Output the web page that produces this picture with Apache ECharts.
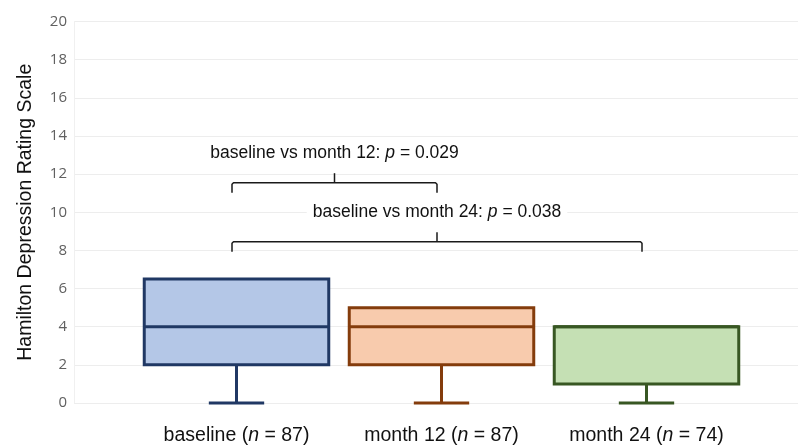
<!DOCTYPE html>
<html>
<head>
<meta charset="utf-8">
<script src="https://cdn.jsdelivr.net/npm/echarts@6/dist/echarts.min.js"></script>
<style>html,body{margin:0;padding:0;background:#fff}#c{width:798px;height:447px}</style>
</head>
<body>
<div id="c"></div>
<script>
// ---- data ----
var categories = ['baseline', 'month 12', 'month 24'];
var nValues = [87, 87, 74];
var mins = [0, 0, 0];
var q1s = [2, 2, 1];
var medians = [4, 4, 4];
var q3s = [6.5, 5, 4];
var maxs = [6.5, 5, 4];
var yTicks = [0, 2, 4, 6, 8, 10, 12, 14, 16, 18, 20];
var bracketFrom = [0, 0];
var bracketTo = [1, 2];
var bracketLevel = [11.55, 8.45];
var bracketLabel = ['baseline vs month 12: {i|p} = 0.029', 'baseline vs month 24: {i|p} = 0.038'];

// ---- styles ----
var fills = ['#b4c7e7', '#f8cbad', '#c5e0b4'];
var strokes = ['#203864', '#843c0c', '#385723'];
var FONT = '"Liberation Sans", Arial, sans-serif';

var boxData = categories.map(function (c, i) {
  return [i, mins[i], q1s[i], medians[i], q3s[i], maxs[i]];
});
var bracketData = bracketFrom.map(function (f, i) {
  return [f, bracketTo[i], bracketLevel[i], i];
});

var chart = echarts.init(document.getElementById('c'));
chart.setOption({
  animation: false,
  grid: [
    {left: 74, right: 0, top: 21.5, bottom: 44},
    {left: 134, right: 49, top: 21.5, bottom: 44}
  ],
  xAxis: [
    {gridIndex: 0, type: 'category', data: categories, show: false},
    {
      gridIndex: 1, type: 'category', data: categories,
      axisLine: {show: false}, axisTick: {show: false},
      axisLabel: {
        margin: 23,
        formatter: function (v, i) { return '{a|' + v + ' (}{i|n}{a| = ' + nValues[i] + ')}'; },
        rich: {
          a: {fontSize: 19.5, fontFamily: FONT, color: '#111'},
          i: {fontSize: 19.5, fontFamily: FONT, color: '#111', fontStyle: 'italic'}
        }
      }
    }
  ],
  yAxis: [
    {
      gridIndex: 0, type: 'value', min: yTicks[0], max: yTicks[yTicks.length - 1], interval: 2,
      name: 'Hamilton Depression Rating Scale', nameLocation: 'middle', nameGap: 38,
      nameTextStyle: {fontSize: 19.5, fontFamily: FONT, color: '#111'},
      axisLine: {show: true, lineStyle: {color: '#f0f0f0', width: 1}},
      axisTick: {show: false},
      axisLabel: {fontSize: 15, fontFamily: '"Open Sans", sans-serif', color: '#606060', margin: 7},
      splitLine: {lineStyle: {color: '#ededed', width: 1}}
    },
    {gridIndex: 1, type: 'value', min: 0, max: 20, interval: 2, show: false, splitLine: {show: false}}
  ],
  series: [
    {
      type: 'custom',
      xAxisIndex: 1, yAxisIndex: 1,
      data: boxData,
      encode: {x: 0, y: [1, 2, 3, 4, 5]},
      renderItem: function (params, api) {
        var idx = api.value(0);
        var pMin = api.coord([idx, api.value(1)]);
        var pQ1 = api.coord([idx, api.value(2)]);
        var pMed = api.coord([idx, api.value(3)]);
        var pQ3 = api.coord([idx, api.value(4)]);
        var pMax = api.coord([idx, api.value(5)]);
        var bw = api.size([1, 0])[0] * 0.9;
        var cap = bw * 0.3;
        var x = pQ1[0];
        var st = {stroke: strokes[idx], lineWidth: 3, fill: null};
        var children = [
          {type: 'line', shape: {x1: x, y1: pQ1[1], x2: x, y2: pMin[1]}, style: st},
          {type: 'line', shape: {x1: x - cap / 2, y1: pMin[1], x2: x + cap / 2, y2: pMin[1]}, style: st},
          {type: 'rect', shape: {x: x - bw / 2, y: pQ3[1], width: bw, height: pQ1[1] - pQ3[1]},
            style: {fill: fills[idx], stroke: strokes[idx], lineWidth: 3}},
          {type: 'line', shape: {x1: x - bw / 2, y1: pMed[1], x2: x + bw / 2, y2: pMed[1]}, style: st}
        ];
        if (pMax[1] < pQ3[1] - 0.5) {
          children.push({type: 'line', shape: {x1: x, y1: pQ3[1], x2: x, y2: pMax[1]}, style: st});
          children.push({type: 'line', shape: {x1: x - cap / 2, y1: pMax[1], x2: x + cap / 2, y2: pMax[1]}, style: st});
        }
        return {type: 'group', children: children};
      }
    },
    {
      type: 'custom',
      xAxisIndex: 1, yAxisIndex: 1,
      data: bracketData,
      encode: {x: [0, 1], y: 2},
      renderItem: function (params, api) {
        var a = api.coord([api.value(0), api.value(2)]);
        var b = api.coord([api.value(1), api.value(2)]);
        var k = api.value(3);
        var sh = -4.5;
        var x1 = a[0] + sh, x2 = b[0] + sh, y = a[1];
        var mid = (x1 + x2) / 2;
        var ls = {stroke: '#1a1a1a', lineWidth: 1.5, fill: null, lineJoin: 'round'};
        return {
          type: 'group',
          children: [
            {type: 'polyline', shape: {points: [[x1, y + 10], [x1, y + 1.5], [x1 + 1.5, y], [x2 - 1.5, y], [x2, y + 1.5], [x2, y + 10]]}, style: ls},
            {type: 'line', shape: {x1: mid, y1: y, x2: mid, y2: y - 9.5}, style: ls},
            {type: 'text', style: {
              text: bracketLabel[k], x: mid, y: y - 29.5, align: 'center', verticalAlign: 'middle',
              fontSize: 17.5, fontFamily: FONT, fill: '#111',
              backgroundColor: '#fff', padding: [2, 6],
              rich: {i: {fontSize: 17.5, fontFamily: FONT, fill: '#111', fontStyle: 'italic'}}
            }}
          ]
        };
      }
    }
  ]
});
</script>
</body>
</html>
